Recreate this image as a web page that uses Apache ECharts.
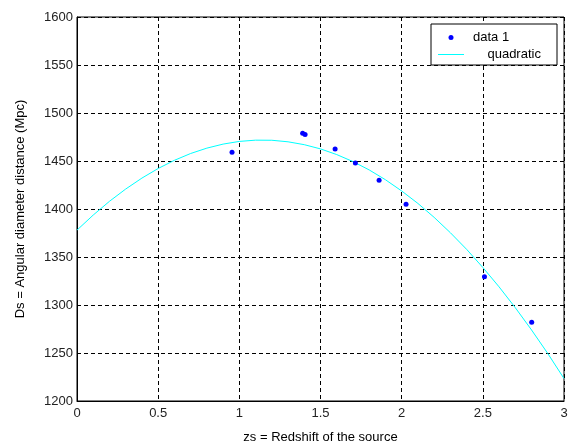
<!DOCTYPE html>
<html>
<head>
<meta charset="utf-8">
<script src="https://cdn.jsdelivr.net/npm/echarts@6/dist/echarts.min.js"></script>
<style>
  html, body { margin: 0; padding: 0; background: #fff; }
  #chart { width: 571px; height: 446px; }
</style>
</head>
<body>
<div id="chart"></div>
<script>
// Measured angular diameter distances vs. source redshift
const zsData = [0.955, 1.390, 1.405, 1.590, 1.715, 1.861, 2.027, 2.510, 2.801];
const dsData = [1459, 1479, 1477.5, 1462.5, 1448, 1430, 1405, 1329.5, 1282];

// Quadratic fit curve, sampled every 0.1 in redshift
const fitZs = [0, 0.1, 0.2, 0.3, 0.4, 0.5, 0.6, 0.7, 0.8, 0.9, 1.0,
               1.1, 1.2, 1.3, 1.4, 1.5, 1.6, 1.7, 1.8, 1.9, 2.0,
               2.1, 2.2, 2.3, 2.4, 2.5, 2.6, 2.7, 2.8, 2.9, 3.0];
const fitDs = [1378.0, 1393.7, 1408.0, 1420.8, 1432.2, 1442.2, 1450.7, 1457.8, 1463.4, 1467.6, 1470.4,
               1471.7, 1471.6, 1470.0, 1467.0, 1462.6, 1456.7, 1449.4, 1440.7, 1430.5, 1418.8,
               1405.8, 1391.3, 1375.3, 1358.0, 1339.1, 1318.9, 1297.2, 1274.0, 1249.5, 1223.4];

// Axis tick settings
const xTicks = { min: 0, max: 3, interval: 0.5 };
const yTicks = { min: 1200, max: 1600, interval: 50 };

const FONT = 'Liberation Sans, Arial, sans-serif';
const pair = (xs, ys) => xs.map((x, i) => [x, ys[i]]);

const chart = echarts.init(document.getElementById('chart'), null, { renderer: 'canvas' });
chart.setOption({
  backgroundColor: '#ffffff',
  animation: false,
  grid: {
    left: 77, top: 17, right: 7, bottom: 45,
    containLabel: false, outerBoundsMode: 'none',
    show: true, borderColor: '#000', borderWidth: 1, backgroundColor: '#fff'
  },
  xAxis: {
    type: 'value',
    min: xTicks.min, max: xTicks.max, interval: xTicks.interval,
    name: 'zs = Redshift of the source',
    nameLocation: 'middle', nameGap: 30,
    nameTextStyle: { color: '#000', fontSize: 13, fontFamily: FONT },
    axisLine: { show: true, lineStyle: { color: '#000', width: 1 } },
    axisTick: { show: false },
    axisLabel: { color: '#222', fontSize: 13, fontFamily: FONT, margin: 6, formatter: v => String(v) },
    splitLine: { show: true, lineStyle: { color: '#000', type: [4, 3], width: 1 } }
  },
  yAxis: {
    type: 'value',
    min: yTicks.min, max: yTicks.max, interval: yTicks.interval,
    name: 'Ds = Angular diameter distance (Mpc)',
    nameLocation: 'middle', nameGap: 50, nameRotate: 90,
    nameTextStyle: { color: '#000', fontSize: 13, fontFamily: FONT },
    axisLine: { show: true, lineStyle: { color: '#000', width: 1 } },
    axisTick: { show: false },
    axisLabel: { color: '#222', fontSize: 13, fontFamily: FONT, margin: 4, formatter: v => String(v) },
    splitLine: { show: true, lineStyle: { color: '#000', type: [4, 3], width: 1 } }
  },
  legend: {
    orient: 'vertical',
    right: 14, top: 24,
    backgroundColor: '#fff',
    borderColor: '#000', borderWidth: 1, borderRadius: 0,
    padding: [6, 8, 3, 7],
    itemGap: 2,
    itemWidth: 26, itemHeight: 5,
    textStyle: { color: '#000', fontSize: 13, fontFamily: FONT, lineHeight: 15, width: 76, padding: [0, 0, 0, 4] },
    formatter: name => name === 'quadratic' ? '    quadratic' : name,
    data: [
      { name: 'data 1', icon: 'circle' },
      { name: 'quadratic', icon: 'path://M0,0 L26,0 L26,1 L0,1 Z' }
    ]
  },
  series: [
    {
      name: 'quadratic',
      type: 'line',
      data: pair(fitZs, fitDs),
      smooth: false,
      showSymbol: false,
      symbol: 'none',
      lineStyle: { color: '#00ffff', width: 1 },
      itemStyle: { color: '#00ffff' },
      z: 2
    },
    {
      name: 'data 1',
      type: 'scatter',
      data: pair(zsData, dsData),
      symbol: 'circle',
      symbolSize: 5,
      itemStyle: { color: '#0000ff', opacity: 1 },
      z: 3
    }
  ]
});
</script>
</body>
</html>
